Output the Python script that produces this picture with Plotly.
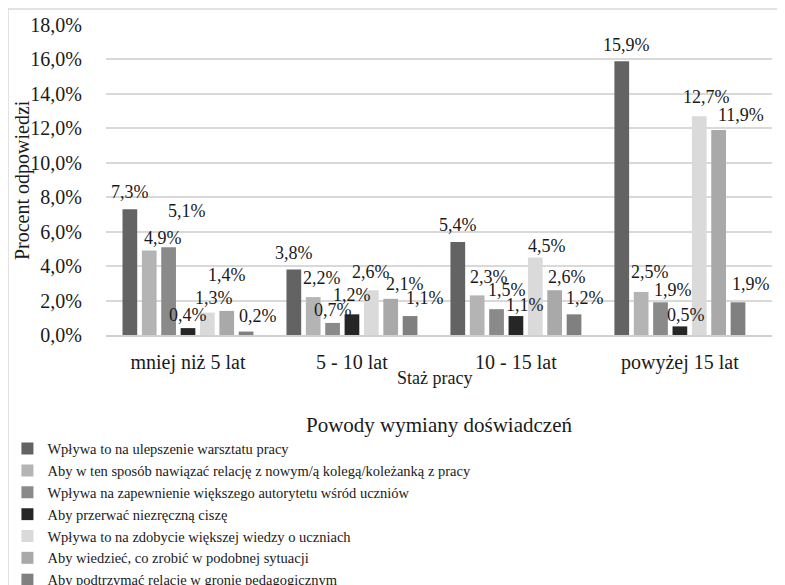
import plotly.graph_objects as go

categories = ["mniej niż 5 lat", "5 - 10 lat", "10 - 15 lat", "powyżej 15 lat"]

series_names = [
    "Wpływa to na ulepszenie warsztatu pracy",
    "Aby w ten sposób nawiązać relację z nowym/ą kolegą/koleżanką z pracy",
    "Wpływa na zapewnienie większego autorytetu wśród uczniów",
    "Aby przerwać niezręczną ciszę",
    "Wpływa to na zdobycie większej wiedzy o uczniach",
    "Aby wiedzieć, co zrobić w podobnej sytuacji",
    "Aby podtrzymać relacje w gronie pedagogicznym",
]

s1 = [7.3, 3.8, 5.4, 15.9]
s2 = [4.9, 2.2, 2.3, 2.5]
s3 = [5.1, 0.7, 1.5, 1.9]
s4 = [0.4, 1.2, 1.1, 0.5]
s5 = [1.3, 2.6, 4.5, 12.7]
s6 = [1.4, 2.1, 2.6, 11.9]
s7 = [0.2, 1.1, 1.2, 1.9]
series_values = [s1, s2, s3, s4, s5, s6, s7]

colors = ["#636363", "#b4b4b4", "#8a8a8a", "#262626", "#dadada", "#a9a9a9", "#808080"]

# label nudges (pixels): horizontal shift and height of label centre above bar top
label_dx = [[0, 0, 0, 5], [14, 9, 12, 9], [18, 0, 10, 12], [0, 0, 9, 6],
            [7, 0, 12, 7], [0, 14, 12, 22], [12, 15, 11, 13]]
label_dy = [[17, 17, 17, 16], [13, 19, 18, 20], [36, 13, 19, 12], [13, 19, 11, 11],
            [15, 18, 12, 19], [36, 15, 13, 15], [16, 18, 16, 18]]

FONT = "Times New Roman, Liberation Serif, DejaVu Serif, serif"
TXT = "#1a1a1a"
BARGAP = 0.173
GROUPGAP = 0.24

L, T, PW, PH = 98, 17, 666, 310

fig = go.Figure()
for name, vals, col in zip(series_names, series_values, colors):
    fig.add_trace(go.Bar(name=name, x=categories, y=vals, marker=dict(color=col, line=dict(width=0))))

n = len(series_values)
slot = (1 - BARGAP) / n
annotations = []
for i, vals in enumerate(series_values):
    for j, v in enumerate(vals):
        annotations.append(dict(
            x=j + (i - (n - 1) / 2) * slot, y=v, xref="x", yref="y",
            text=f"{v:.1f}".replace(".", ",") + "%", showarrow=False,
            xshift=label_dx[i][j], yshift=label_dy[i][j],
            yanchor="middle", xanchor="center",
            font=dict(family=FONT, size=18, color=TXT)))

annotations.append(dict(x=-0.126, y=0.5, xref="paper", yref="paper", text="Procent odpowiedzi",
                        textangle=-90, showarrow=False, xanchor="center", yanchor="middle",
                        font=dict(family=FONT, size=20, color=TXT)))
annotations.append(dict(x=0.493, y=-0.139, xref="paper", yref="paper", text="Staż pracy",
                        showarrow=False, xanchor="center", yanchor="middle",
                        font=dict(family=FONT, size=18, color=TXT)))
annotations.append(dict(x=0.5, y=-0.29, xref="paper", yref="paper", text="Powody wymiany doświadczeń",
                        showarrow=False, xanchor="center", yanchor="middle",
                        font=dict(family=FONT, size=21, color=TXT)))

fig.update_layout(
    width=785, height=585,
    margin=dict(l=L, r=785 - L - PW, t=T, b=585 - T - PH, autoexpand=False),
    paper_bgcolor="white", plot_bgcolor="white",
    barmode="group", bargap=BARGAP, bargroupgap=GROUPGAP,
    separators=", ",
    font=dict(family=FONT, color=TXT),
    showlegend=True,
    legend=dict(x=-0.148, y=-0.315, xanchor="left", yanchor="top", orientation="v",
                font=dict(family=FONT, size=14.5, color=TXT), bgcolor="rgba(0,0,0,0)",
                itemclick=False, itemdoubleclick=False, tracegroupgap=0),
    annotations=annotations,
    shapes=[dict(type="rect", xref="paper", yref="paper",
                 x0=(0 - L) / PW, x1=(790 - L) / PW,
                 y0=-(600 - T - PH) / PH, y1=(PH + T - 1) / PH,
                 line=dict(color="#d9d9d9", width=1.5), fillcolor="rgba(0,0,0,0)", layer="below")],
    xaxis=dict(type="category", showgrid=False, showline=True, linecolor="#d0d0d0", linewidth=1.5,
               ticks="outside", ticklen=8, tickcolor="rgba(0,0,0,0)",
               tickfont=dict(family=FONT, size=20, color=TXT)),
    yaxis=dict(range=[0, 18], dtick=2, tickformat=".1f", ticksuffix="%",
               showgrid=True, gridcolor="#d9d9d9", gridwidth=1.5, zeroline=False, showline=False,
               ticks="outside", ticklen=19, tickcolor="rgba(0,0,0,0)",
               tickfont=dict(family=FONT, size=20, color=TXT)),
)

fig.write_html("out.html")
